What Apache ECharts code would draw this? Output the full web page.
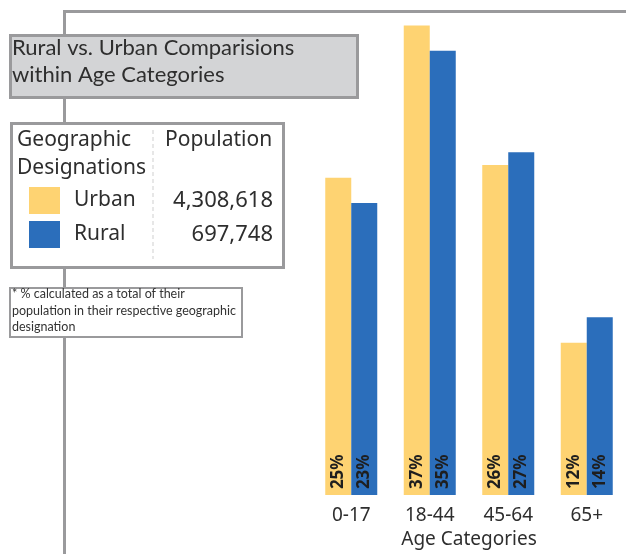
<!DOCTYPE html>
<html>
<head>
<meta charset="utf-8">
<script src="https://cdn.jsdelivr.net/npm/echarts@6/dist/echarts.min.js"></script>
<style>
  html, body { margin: 0; padding: 0; background: #fff; }
  #chart { width: 626px; height: 554px; }
</style>
</head>
<body>
<div id="chart"></div>
<script>
const ageCategories = ["0-17", "18-44", "45-64", "65+"];
const urbanPct = [25, 37, 26, 12];
const ruralPct = [23, 35, 27, 14];
const populations = { Urban: "4,308,618", Rural: "697,748" };

const urbanColor = "#fed372";
const ruralColor = "#2b6ebb";
const lineGray = "#9a9a9c";
const textColor = "#2e2e2e";

const chart = echarts.init(document.getElementById("chart"));

const barLabel = {
  show: true,
  position: "insideBottom",
  distance: 6,
  rotate: 90,
  align: "left",
  verticalAlign: "middle",
  formatter: (p) => p.value + "%",
  fontFamily: "Noto Sans",
  fontWeight: "bold",
  fontSize: 17,
  color: "#1e1e1e",
};

const option = {
  animation: false,
  grid: { left: 312, right: -3, top: 0, bottom: 57 },
  xAxis: {
    type: "category",
    data: ageCategories,
    axisLine: { show: false },
    axisTick: { show: false },
    axisLabel: {
      margin: 11,
      fontFamily: "Noto Sans",
      fontSize: 19,
      color: textColor,
    },
    name: "Age Categories",
    nameLocation: "middle",
    nameGap: 34,
    nameTextStyle: { fontFamily: "Noto Sans", fontSize: 19, color: textColor },
  },
  yAxis: { type: "value", min: 0, max: 39, show: false },
  legend: {
    data: ["Urban", "Rural"],
    orient: "vertical",
    left: 24,
    top: 182,
    itemWidth: 31,
    itemHeight: 27,
    itemGap: 7,
    icon: "rect",
    selectedMode: false,
    formatter: (name) => "{n|" + name + "}{p|" + populations[name] + "}",
    textStyle: {
      rich: {
        n: { fontFamily: "Noto Sans", fontSize: 21, color: textColor, width: 80, padding: [0, 0, 0, 9] },
        p: { fontFamily: "Noto Sans", fontSize: 22, color: textColor, width: 119, align: "right" },
      },
    },
  },
  graphic: [
    // connector lines (drawn first so the boxes cover them)
    { type: "rect", left: 63, top: 10, shape: { width: 3, height: 544 }, style: { fill: lineGray }, z: 1 },
    { type: "rect", left: 63, top: 10, shape: { width: 563, height: 3 }, style: { fill: lineGray }, z: 1 },
    // title box
    {
      type: "rect", left: 9, top: 34,
      shape: { width: 347, height: 62 },
      style: { fill: "#d3d4d6", stroke: lineGray, lineWidth: 3 }, z: 2,
    },
    {
      type: "text", left: 12, top: 34, z: 3,
      style: {
        text: "Rural vs. Urban Comparisions\nwithin Age Categories",
        fontFamily: "Lato", fontSize: 22, lineHeight: 27, fill: textColor,
      },
    },
    // legend box
    {
      type: "rect", left: 10, top: 122,
      shape: { width: 272, height: 144 },
      style: { fill: "#fff", stroke: lineGray, lineWidth: 3 }, z: 2,
    },
    {
      type: "line", z: 3,
      shape: { x1: 153, y1: 130, x2: 153, y2: 259 },
      style: { stroke: "#cfcfcf", lineWidth: 1, lineDash: [4, 3] },
    },
    {
      type: "text", left: 17, top: 126, z: 3,
      style: {
        text: "Geographic\nDesignations",
        fontFamily: "Noto Sans", fontSize: 21, lineHeight: 28, fill: textColor,
      },
    },
    {
      type: "text", left: 165, top: 126, z: 3,
      style: { text: "Population", fontFamily: "Noto Sans", fontSize: 21, lineHeight: 28, fill: textColor },
    },
    // footnote box
    {
      type: "rect", left: 9, top: 287,
      shape: { width: 232, height: 49 },
      style: { fill: "#fff", stroke: lineGray, lineWidth: 2 }, z: 2,
    },
    {
      type: "text", left: 12, top: 286, z: 3,
      style: {
        text: "* % calculated as a total of their\npopulation in their respective geographic\ndesignation",
        fontFamily: "Lato", fontSize: 12.5, lineHeight: 16.5, fill: "#333",
      },
    },
  ],
  series: [
    {
      name: "Urban",
      type: "bar",
      data: urbanPct,
      barWidth: 26,
      barGap: "0%",
      itemStyle: { color: urbanColor },
      label: barLabel,
      z: 4,
    },
    {
      name: "Rural",
      type: "bar",
      data: ruralPct,
      barWidth: 26,
      itemStyle: { color: ruralColor },
      label: barLabel,
      z: 4,
    },
  ],
};

chart.setOption(option);
</script>
</body>
</html>
